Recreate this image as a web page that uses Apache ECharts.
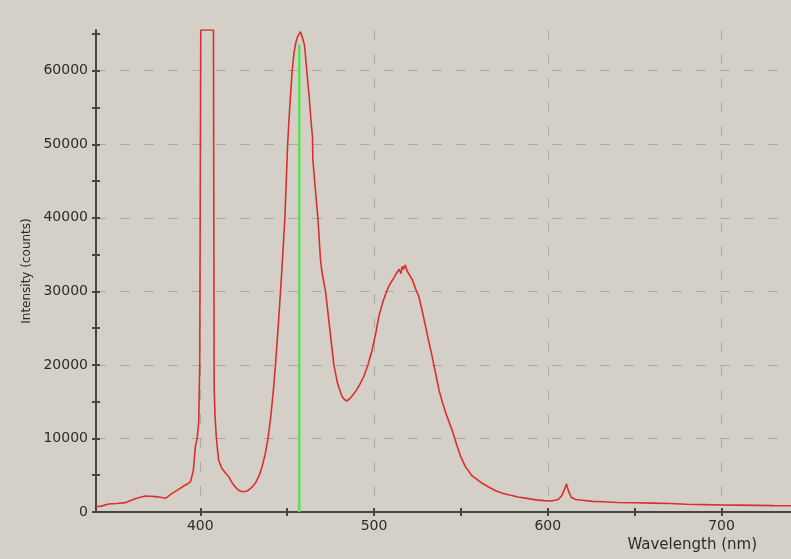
<!DOCTYPE html>
<html>
<head>
<meta charset="utf-8">
<title>Spectrum</title>
<script src="https://cdn.jsdelivr.net/npm/echarts@6/dist/echarts.min.js"></script>
<style>
  html, body { margin: 0; padding: 0; background: #d4d0c8; }
  #chart { width: 791px; height: 559px; }
</style>
</head>
<body>
<div id="chart"></div>
<script>
// Spectrometer reading: wavelength (nm) and detector counts
const wavelengths = [
  340, 343, 347.3, 352, 356.9, 360.7, 364, 368.4, 371, 374.2, 377, 380, 383.8, 387, 390.5,
  392.5, 394.4, 396, 397.2, 398.2, 399.1, 399.7, 400.3, 407.6, 408, 408.5, 409.3, 410.6,
  412.5, 414.5, 416.4, 418.5, 420.5, 422.5, 424.5, 427, 429.5, 431.8, 433.8, 435.6, 437.5,
  439, 440.5, 442, 443.3, 444.8, 446.2, 447.5, 448.7, 449.5, 450.3, 451.5, 452.9, 454,
  455, 456, 457, 457.7, 458.3, 459, 460, 461.3, 462.5, 463.8, 464.6, 464.8, 466, 467.7,
  469.2, 470, 472.1, 474.5, 476.9, 479, 481.6, 483, 484.5, 486, 487.5, 489.4, 491.5,
  494.1, 496.5, 498.9, 501, 502.8, 505, 507, 508.5, 510, 511.4, 513, 514.5, 515.5, 516.2,
  517, 518, 519, 520, 522, 524, 525.8, 527.5, 529.7, 531.5, 533.5, 535.5, 537.3, 539.5,
  542, 545, 547.5, 549.8, 552.5, 556.5, 560, 562.3, 566, 570, 574, 578, 583, 588, 593,
  598, 602, 606, 608, 609.5, 610.8, 612, 613.5, 616, 620, 626, 632, 640, 650, 660, 670,
  680, 690, 700, 710, 720, 730, 740
];
const intensities = [
  720, 800, 1090, 1150, 1270, 1630, 1900, 2180, 2150, 2090, 2000, 1860, 2540, 3000, 3540,
  3800, 4130, 5600, 8880, 10000, 12100, 20000, 65535, 65535, 17000, 13000, 10000, 7000,
  5900, 5300, 4800, 3900, 3300, 2900, 2750, 2850, 3300, 3950, 4900, 6160, 8000,
  10000, 12800, 16300, 20000, 25000, 30000, 35000, 40000, 45000, 50000, 55000, 60000, 62500,
  63800, 64600, 65000, 65300, 64900, 65100, 63500, 60000, 57000, 53000, 51000, 48000, 44500, 40000,
  34300, 32700, 30000, 25000, 20000, 17500, 15700, 15300, 15100, 15400, 15800, 16400, 17200,
  18400, 20000, 22000, 24300, 26600, 28500, 29800, 30700, 31300, 31800, 32500, 33000, 32400, 33400,
  33000, 33600, 32800, 32600, 31600, 30300, 29300, 27600, 25200, 23200, 21100, 18800, 16700, 14800,
  13000, 11100, 9200, 7600, 6200, 4900, 4300, 3900, 3400, 2900, 2550, 2300, 2050, 1850, 1650,
  1550, 1500, 1700, 2200, 3000, 3800, 2800, 2000, 1700, 1600, 1450, 1400, 1300, 1250, 1200, 1150,
  1050, 1000, 950, 930, 900, 870, 850
];

// Cursor position and its height
const cursorWavelength = 457;
const cursorTop = 63500;

// Axis ticks and labels
const xTicks = [400, 450, 500, 550, 600, 650, 700];
const xTickLabels = [400, 500, 600, 700];
const yTicks = [0, 5000, 10000, 15000, 20000, 25000, 30000, 35000, 40000, 45000, 50000, 55000, 60000, 65000];
const yTickLabels = [0, 10000, 20000, 30000, 40000, 50000, 60000];
const yGridLines = [10000, 20000, 30000, 40000, 50000, 60000];

const xMin = 340, xMax = 740, yMin = 0, yMax = 65535;

const axisColor = '#454545';
const textColor = '#2c2c2c';
const font = 'DejaVu Sans';
const gridDash = {color: '#aeaaa3', type: [10, 14], width: 1};

const spectrum = wavelengths.map((w, i) => [w, intensities[i]]);

const chart = echarts.init(document.getElementById('chart'), null, {renderer: 'canvas'});

chart.setOption({
  backgroundColor: '#d4d0c8',
  animation: false,
  grid: {left: 96, right: 0, top: 30, bottom: 47, containLabel: false},
  xAxis: [
    {
      type: 'value', min: xMin, max: xMax, position: 'bottom',
      axisLine: {show: true, onZero: false, lineStyle: {color: axisColor, width: 2}},
      axisTick: {show: true, customValues: xTicks, length: 4, inside: false, lineStyle: {color: axisColor, width: 2}},
      axisLabel: {show: true, customValues: xTickLabels, margin: 7, color: textColor, fontSize: 14, fontFamily: font,
                  formatter: v => String(v)},
      splitLine: {show: false},
      name: 'Wavelength (nm)',
      nameLocation: 'end',
      nameGap: -34,
      nameTextStyle: {color: textColor, fontSize: 15, fontFamily: font, align: 'right', verticalAlign: 'top',
                      padding: [26, 0, 0, 0]}
    },
    {
      type: 'value', min: xMin, max: xMax, position: 'bottom',
      axisLine: {show: false, onZero: false},
      axisTick: {show: true, customValues: xTicks, length: 4, inside: true, lineStyle: {color: axisColor, width: 2}},
      axisLabel: {show: false},
      splitLine: {show: false}
    },
    {
      type: 'value', min: xMin, max: xMax, splitNumber: 4, position: 'bottom',
      axisLine: {show: false, onZero: false},
      axisTick: {show: false, customValues: xTickLabels},
      axisLabel: {show: false},
      splitLine: {show: true, lineStyle: gridDash}
    }
  ],
  yAxis: [
    {
      type: 'value', min: yMin, max: yMax, position: 'left',
      axisLine: {show: true, onZero: false, lineStyle: {color: axisColor, width: 2}},
      axisTick: {show: true, customValues: yTicks, length: 4, inside: false, lineStyle: {color: axisColor, width: 2}},
      axisLabel: {show: true, customValues: yTickLabels, margin: 8, color: textColor, fontSize: 14, fontFamily: font,
                  formatter: v => String(v)},
      splitLine: {show: false},
      name: 'Intensity (counts)',
      nameLocation: 'middle',
      nameGap: 63,
      nameRotate: 90,
      nameTextStyle: {color: textColor, fontSize: 12, fontFamily: font}
    },
    {
      type: 'value', min: yMin, max: yMax, position: 'left',
      axisLine: {show: false, onZero: false},
      axisTick: {show: true, customValues: yTicks, length: 4, inside: true, lineStyle: {color: axisColor, width: 2}},
      axisLabel: {show: false},
      splitLine: {show: false}
    },
    {
      type: 'value', min: yMin, max: yMax, interval: 10000, position: 'left',
      axisLine: {show: false, onZero: false},
      axisTick: {show: false, customValues: yGridLines},
      axisLabel: {show: false},
      splitLine: {show: true, lineStyle: gridDash}
    }
  ],
  series: [
    {
      name: 'Spectrum',
      type: 'line',
      xAxisIndex: 0, yAxisIndex: 0,
      data: spectrum,
      showSymbol: false,
      symbol: 'none',
      smooth: false,
      clip: true,
      lineStyle: {color: '#d9302c', width: 1.6},
      z: 3
    },
    {
      name: 'Cursor',
      type: 'line',
      xAxisIndex: 0, yAxisIndex: 0,
      data: [[cursorWavelength, 0], [cursorWavelength, cursorTop]],
      showSymbol: false,
      symbol: 'none',
      lineStyle: {color: '#5edc5a', width: 2.5},
      z: 4
    }
  ]
});
</script>
</body>
</html>
